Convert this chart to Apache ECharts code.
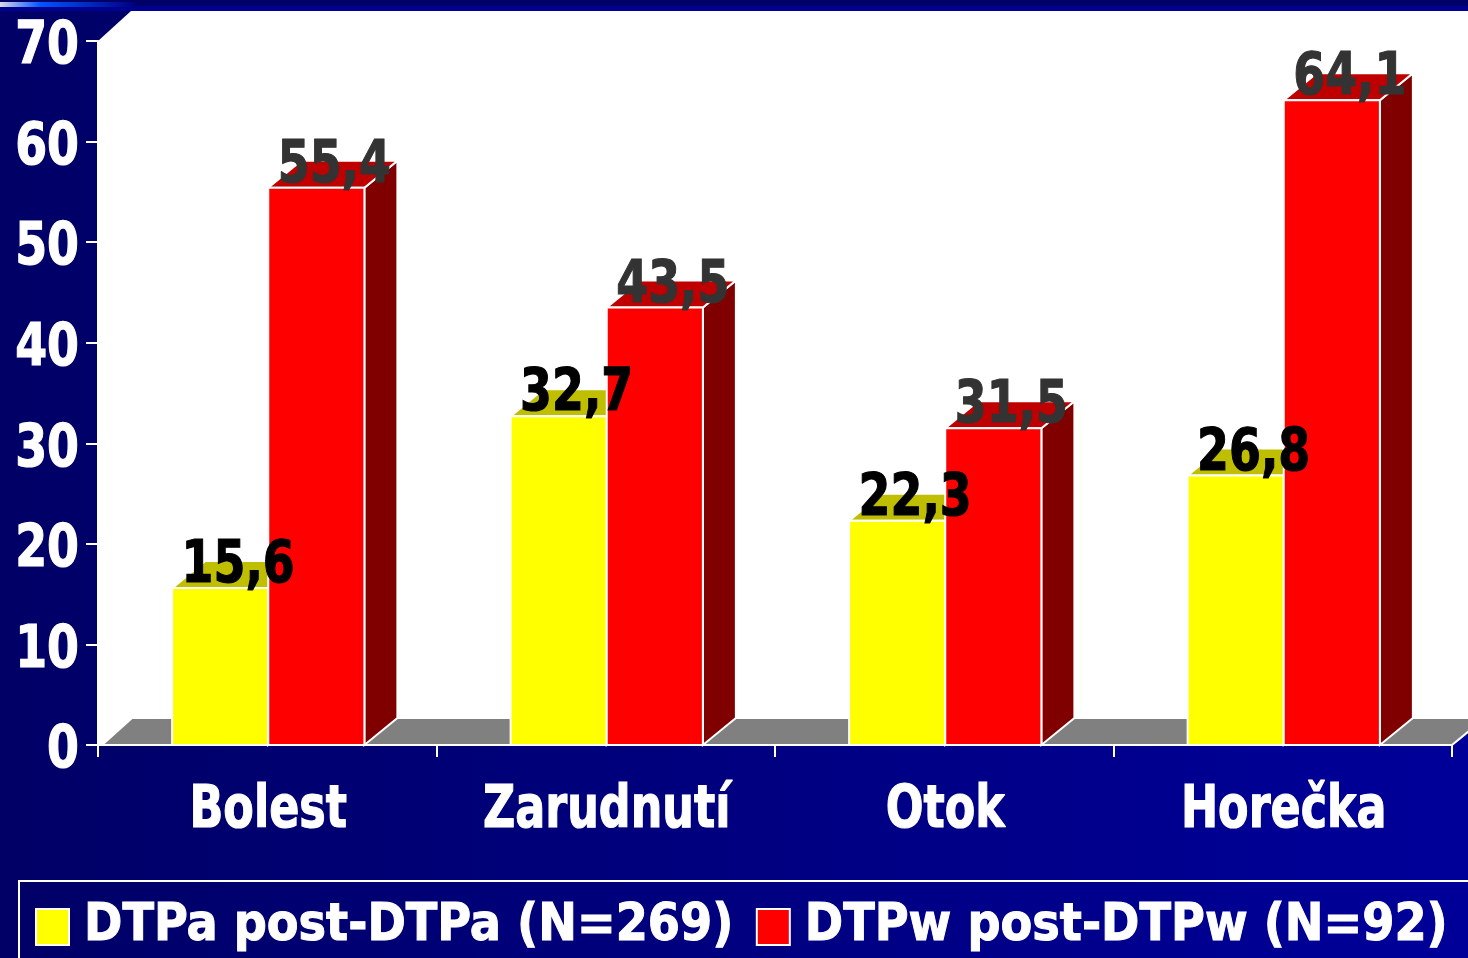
<!DOCTYPE html>
<html>
<head>
<meta charset="utf-8">
<script src="https://cdn.jsdelivr.net/npm/echarts@6/dist/echarts.min.js"></script>
<style>
  html, body { margin: 0; padding: 0; background: #000080; overflow: hidden; }
  #main { width: 1468px; height: 958px; }
</style>
</head>
<body>
<div id="main"></div>
<script>
var categories = ['Bolest', 'Zarudnutí', 'Otok', 'Horečka'];
var dtpa = [15.6, 32.7, 22.3, 26.8];
var dtpw = [55.4, 43.5, 31.5, 64.1];
var seriesNames = ['DTPa post-DTPa (N=269)', 'DTPw post-DTPw (N=92)'];
var yTickLabels = [0, 10, 20, 30, 40, 50, 60, 70];

var FONT = '"DejaVu Sans Condensed", "DejaVu Sans", sans-serif';
var DX = 33, DY = 27;

function comma(v) { return String(v).replace('.', ','); }

// floor + back wall, taken from the grid rect
function renderWalls(params, api) {
  var c = params.coordSys;
  var l = c.x, r = c.x + c.width, t = c.y, b = c.y + c.height;
  return {
    type: 'group',
    children: [
      { type: 'polygon', shape: { points: [[l, t], [l + DX, t - 30], [1468, t - 30], [1468, b - 13], [r, b], [l, b]] },
        style: { fill: '#fff' } },
      { type: 'polygon', shape: { points: [[l + 4, b], [l + DX + 1, b - DY], [r + DX, b - DY], [r, b]] },
        style: { fill: '#808080', stroke: '#fff', lineWidth: 2 } }
    ]
  };
}

// fake 3d column, side = 0 left of the category centre, 1 right of it
function bar3d(side, front, top, dark, textColor) {
  return function (params, api) {
    var p = api.coord([api.value(0), api.value(1)]);
    var base = api.coord([api.value(0), 0]);
    var w = api.size([1, 0])[0] * 0.284;
    var x0 = p[0] + 1 - w + side * w;
    var x1 = x0 + w;
    var line = { stroke: '#fff', lineWidth: 2 };
    return {
      type: 'group',
      children: [
        { type: 'polygon', shape: { points: [[x1, p[1]], [x1 + DX, p[1] - DY], [x1 + DX, base[1] - DY], [x1, base[1]]] },
          style: Object.assign({ fill: dark }, line) },
        { type: 'polygon', shape: { points: [[x0, p[1]], [x0 + DX, p[1] - DY], [x1 + DX, p[1] - DY], [x1, p[1]]] },
          style: Object.assign({ fill: top }, line) },
        { type: 'rect', shape: { x: x0, y: p[1], width: w, height: base[1] - p[1] },
          style: Object.assign({ fill: front }, line) },
        { type: 'text', z2: 50, x: x0 + w / 2 + 18, y: p[1] - 21, scaleX: 0.98, scaleY: 1.12,
          style: { text: comma(api.value(1)), fill: textColor, stroke: textColor, lineWidth: 1, font: 'bold 52px ' + FONT, align: 'center', verticalAlign: 'middle' } }
      ]
    };
  };
}

// the tick labels in the picture are squeezed, axisLabel can't do that
function scaledLabel(x, y, text, align, sx) {
  return { type: 'text', x: x, y: y, scaleX: sx, scaleY: 1.13,
    style: { text: text, fill: '#fff', stroke: '#fff', lineWidth: 1, font: 'bold 52px ' + FONT, align: align, verticalAlign: 'middle' } };
}

function renderCategoryLabel(params, api) {
  var p = api.coord([api.value(0), 0]);
  return scaledLabel(p[0] + 1, p[1] + 67, categories[params.dataIndex], 'center', 0.95);
}

function renderValueLabel(params, api) {
  var p = api.coord([0, api.value(1)]);
  return scaledLabel(params.coordSys.x - 19, p[1] + 7, String(api.value(1)), 'right', 0.98);
}

function points(arr) { return arr.map(function (v, i) { return [i, v]; }); }

var chart = echarts.init(document.getElementById('main'));
chart.setOption({
  animation: false,
  backgroundColor: new echarts.graphic.LinearGradient(0, 0, 1, 0, [
    { offset: 0, color: '#000066' }, { offset: 1, color: '#000099' }
  ]),
  graphic: [
    { type: 'rect', z: 0, shape: { x: 0, y: 0, width: 1468, height: 6 }, style: { fill: '#000066' } },
    { type: 'rect', z: 0, shape: { x: 0, y: 6, width: 1468, height: 5 }, style: { fill: '#000090' } },
    { type: 'rect', z: 0, shape: { x: 0, y: 2, width: 135, height: 5 },
      style: { fill: new echarts.graphic.LinearGradient(0, 0, 1, 0, [
        { offset: 0, color: '#d8d8e8' }, { offset: 0.3, color: '#0055ff' }, { offset: 1, color: '#000080' }
      ]) } }
  ],
  grid: { left: 98, right: 16, top: 41, bottom: 213, outerBoundsMode: 'none' },
  legend: {
    left: 19, top: 881, width: 1500,
    data: seriesNames,
    padding: [20, 40, 26, 16],
    itemGap: 22,
    itemWidth: 33, itemHeight: 36,
    icon: 'rect',
    borderColor: '#fff', borderWidth: 2,
    itemStyle: { borderColor: '#fff', borderWidth: 2 },
    textStyle: { color: '#fff', fontFamily: FONT, fontWeight: 'bold', fontSize: 51.4, padding: [0, 0, 0, 10],
      textBorderColor: '#fff', textBorderWidth: 1, lineHeight: 50, verticalAlign: 'top' }
  },
  xAxis: {
    type: 'category', data: categories, z: 5,
    axisLine: { lineStyle: { color: '#fff', width: 2 } },
    axisTick: { show: true, length: 12, lineStyle: { color: '#fff', width: 2 } },
    axisLabel: { show: false }
  },
  yAxis: {
    type: 'value', min: 0, max: 70, interval: 10, z: 5,
    splitLine: { show: false },
    axisLine: { show: true, lineStyle: { color: '#fff', width: 2 } },
    axisTick: { show: true, length: 12, lineStyle: { color: '#fff', width: 2 } },
    axisLabel: { show: false }
  },
  series: [
    { type: 'custom', z: 1, silent: true, renderItem: renderWalls, data: [[0, 0]], encode: { x: 0, y: 1 } },
    { type: 'custom', z: 2, name: seriesNames[0], itemStyle: { color: '#ffff00' },
      renderItem: bar3d(0, '#ffff00', '#bfbf00', '#808000', '#000'), data: points(dtpa), encode: { x: 0, y: 1 } },
    { type: 'custom', z: 2, name: seriesNames[1], itemStyle: { color: '#ff0000' },
      renderItem: bar3d(1, '#ff0000', '#bf0000', '#800000', '#333'), data: points(dtpw), encode: { x: 0, y: 1 } },
    { type: 'custom', z: 6, silent: true, renderItem: renderCategoryLabel,
      data: categories.map(function (c, i) { return [i, 0]; }), encode: { x: 0, y: 1 } },
    { type: 'custom', z: 6, silent: true, renderItem: renderValueLabel,
      data: yTickLabels.map(function (v) { return [0, v]; }), encode: { x: 0, y: 1 } }
  ]
});
</script>
</body>
</html>
